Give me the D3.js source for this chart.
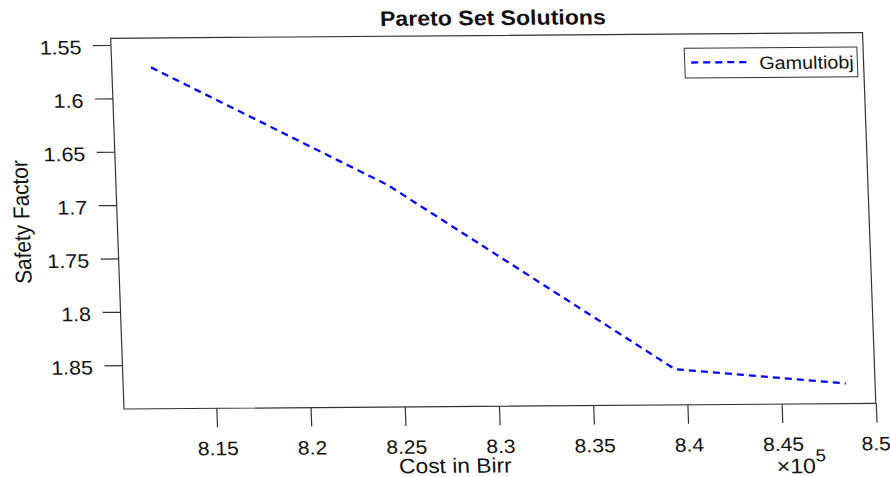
<!DOCTYPE html>
<html>
<head>
<meta charset="utf-8">
<script src="https://cdn.jsdelivr.net/npm/d3@7/dist/d3.min.js"></script>
<style>
  html, body { margin: 0; padding: 0; background: #fff; }
  svg { display: block; }
  text { font-family: "Liberation Sans", Arial, Helvetica, sans-serif; fill: #111; }
</style>
</head>
<body>
<div id="chart"></div>
<script>
// ---- data ----
const costValues   = [812183, 824528, 839402, 848446];   // Cost in Birr
const safetyValues = [1.5712, 1.6832, 1.8576, 1.8722];   // Safety Factor
const xTickValues  = [815000, 820000, 825000, 830000, 835000, 840000, 845000, 850000];
const xTickLabels  = ["8.15", "8.2", "8.25", "8.3", "8.35", "8.4", "8.45", "8.5"];
const yTickValues  = [1.55, 1.6, 1.65, 1.7, 1.75, 1.8, 1.85];
const yTickLabels  = ["1.55", "1.6", "1.65", "1.7", "1.75", "1.8", "1.85"];
const seriesName   = "Gamultiobj";
const titleText    = "Pareto Set Solutions";
const xLabelText   = "Cost in Birr";
const yLabelText   = "Safety Factor";

// ---- layout ----
const width = 890, height = 477;
const W = 751.8, H = 370.7;
const SX = 1.1; // horizontal text stretch of the reference

const svg = d3.select("#chart").append("svg")
  .attr("width", width).attr("height", height);

// the reference is slightly skewed; reproduce with an affine transform
const g = svg.append("g")
  .attr("transform", "matrix(1,-0.00745,0.0359,1,110.7,38.3)");

const x = d3.scaleLinear().domain([810100, 850000]).range([0, W]);
const y = d3.scaleLinear().domain([1.5437, 1.8911]).range([0, H]);

const axisColor = "#333";

// box
g.append("rect")
  .attr("x", 0).attr("y", 0).attr("width", W).attr("height", H)
  .attr("fill", "#fff").attr("stroke", axisColor).attr("stroke-width", 1.2);

// x axis
const xAxis = g.append("g").attr("transform", `translate(0,${H})`)
  .call(d3.axisBottom(x).tickValues(xTickValues).tickSize(19)
        .tickFormat((d, i) => xTickLabels[i]));
xAxis.select(".domain").remove();
xAxis.selectAll(".tick line").attr("stroke", axisColor).attr("stroke-width", 1.2);
const lastTick = xTickValues.length - 1;
xAxis.selectAll(".tick text")
  .attr("x", 0).attr("y", 0).attr("dy", null)
  .attr("text-anchor", (d, i) => i === lastTick ? "end" : "middle")
  .attr("transform", (d, i) => i === lastTick
        ? `translate(13,46.8) scale(${SX},1)`
        : `translate(0,46.8) scale(${SX},1)`)
  .attr("font-size", 19.2).attr("fill", "#111");

// y axis
const yAxis = g.append("g")
  .call(d3.axisLeft(y).tickValues(yTickValues).tickSize(18)
        .tickFormat((d, i) => yTickLabels[i]));
yAxis.select(".domain").remove();
yAxis.selectAll(".tick line").attr("stroke", axisColor).attr("stroke-width", 1.2);
yAxis.selectAll(".tick text")
  .attr("x", 0).attr("y", 0).attr("dy", null)
  .attr("transform", `translate(-29.6,8.5) scale(${SX},1)`)
  .attr("text-anchor", "end")
  .attr("font-size", 19.5).attr("fill", "#111");

// data line
const line = d3.line().x((d, i) => x(costValues[i])).y((d, i) => y(safetyValues[i]));
g.append("path")
  .datum(costValues)
  .attr("d", line)
  .attr("fill", "none")
  .attr("stroke", "#0000ff")
  .attr("stroke-width", 2.3)
  .attr("stroke-dasharray", "7,5");

// legend
const leg = g.append("g");
leg.append("rect")
  .attr("x", 573).attr("y", 14.3).attr("width", 172.6).attr("height", 29.7)
  .attr("fill", "#fff").attr("stroke", axisColor).attr("stroke-width", 1);
leg.append("line")
  .attr("x1", 579.5).attr("x2", 637).attr("y1", 28.5).attr("y2", 28.5)
  .attr("stroke", "#0000ff").attr("stroke-width", 2.3).attr("stroke-dasharray", "7,5");
leg.append("text")
  .attr("transform", `translate(647.4,35.6) scale(${SX},1)`)
  .attr("font-size", 18).text(seriesName);

// title
g.append("text")
  .attr("transform", `translate(382.8,-10.4) scale(${SX},1)`)
  .attr("text-anchor", "middle")
  .attr("font-size", 21).attr("font-weight", "bold").attr("fill", "#000")
  .text(titleText);

// x label
g.append("text")
  .attr("transform", `translate(329.2,437) scale(${SX},1)`)
  .attr("text-anchor", "middle")
  .attr("font-size", 20.7)
  .text(xLabelText);

// exponent label
const ex = g.append("text")
  .attr("transform", `translate(650.4,440) scale(${SX},1)`)
  .attr("font-size", 21);
ex.append("tspan").attr("font-weight", 300).text("\u00d7");
ex.append("tspan").text("10");
ex.append("tspan").attr("font-size", 17).attr("dy", -12).text("5");

// y label
g.append("text")
  .attr("transform", `translate(-87.7,183) scale(${SX},1) rotate(-90)`)
  .attr("text-anchor", "middle")
  .attr("font-size", 20.8)
  .text(yLabelText);
</script>
</body>
</html>
